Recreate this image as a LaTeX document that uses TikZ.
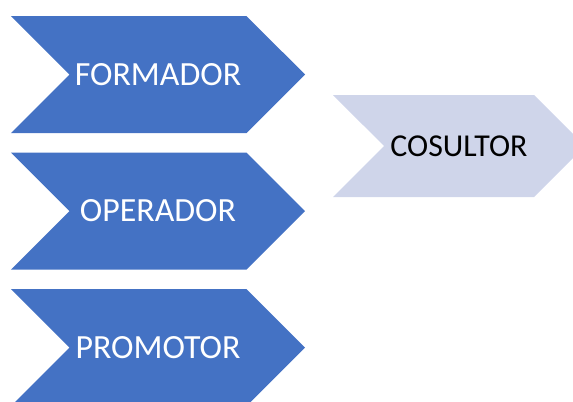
\documentclass[tikz,border=0pt]{standalone}
\usepackage{fontspec}
\setmainfont{Carlito}
\usetikzlibrary{shapes.symbols}
\definecolor{chevblue}{HTML}{4472C4}
\definecolor{chevlight}{HTML}{CFD5EA}
\begin{document}
\begin{tikzpicture}[x=1bp, y=-1bp,
                    line width=0pt]
    \tikzstyle{stage}=[signal, signal to=east, signal from=west, fill=chevblue, draw=none,
                       text=white, minimum width=294bp, minimum height=117bp, inner sep=0pt,
                       font=\fontsize{34}{34}\selectfont]
    \tikzstyle{target}=[stage, fill=chevlight, text=black, minimum width=252bp, minimum height=102bp,
                        font=\fontsize{32}{32}\selectfont]

    \clip (0,0) rectangle (573,401);

    \node[stage] (formador) at (158,74.5) {FORMADOR};
    \node[stage] (operador) at (158,211) {OPERADOR};
    \node[stage] (promotor) at (158,347.5) {PROMOTOR};
    \node[target] (cosultor) at (459,146) {COSULTOR};
\end{tikzpicture}
\end{document}
